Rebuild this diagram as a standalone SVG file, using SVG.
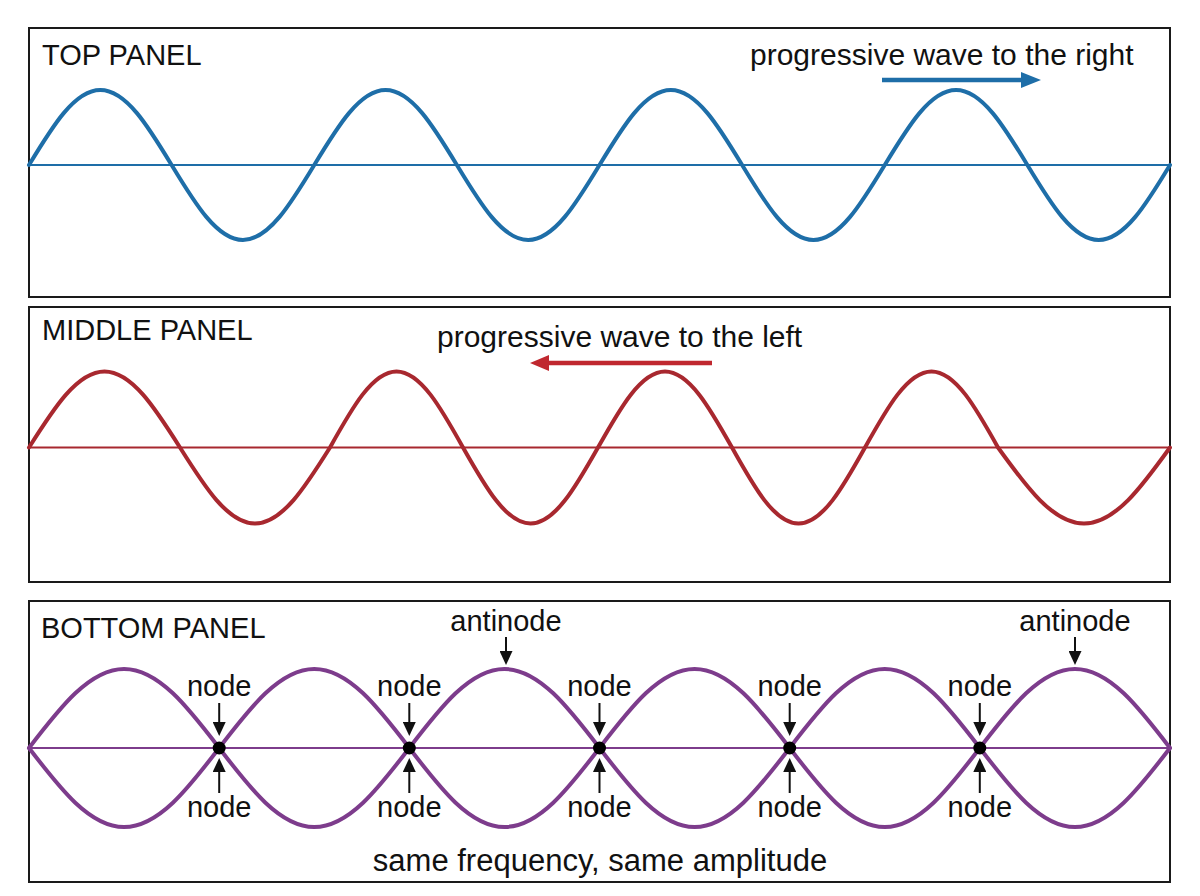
<svg xmlns="http://www.w3.org/2000/svg" width="1200" height="896" viewBox="0 0 1200 896">
  <style>
    .panel { fill: #ffffff; stroke: #1a1a1a; stroke-width: 2; }
    .txt { font-family: "Liberation Sans", Arial, Helvetica, sans-serif; fill: #111111; }
    .title { font-size: 29px; }
    .lbl { font-size: 30px; }
    .foot { font-size: 31px; text-anchor: middle; }
    .small { font-size: 29px; text-anchor: middle; }
    .wave { fill: none; stroke-width: 4; stroke-linejoin: round; stroke-linecap: round; }
    .axis { fill: none; stroke-width: 2; }
    .blue { stroke: #1e6ea8; }
    .red { stroke: #a8282f; }
    .purple { stroke: #7d3c8c; }
    .ptr { stroke: #111111; stroke-width: 2; fill: none; }
  </style>
  <defs>
    <marker id="headBlack" viewBox="0 0 14 13" refX="0" refY="6.5" markerWidth="14" markerHeight="13" markerUnits="userSpaceOnUse" orient="auto">
      <path d="M0,0 L14,6.5 L0,13 z" fill="#111111"/>
    </marker>
    <marker id="headBlue" viewBox="0 0 20 16" refX="0" refY="8" markerWidth="20" markerHeight="16" markerUnits="userSpaceOnUse" orient="auto">
      <path d="M0,0 L20,8 L0,16 z" fill="#1e6ea8"/>
    </marker>
    <marker id="headRed" viewBox="0 0 19 16" refX="0" refY="8" markerWidth="19" markerHeight="16" markerUnits="userSpaceOnUse" orient="auto">
      <path d="M0,0 L19,8 L0,16 z" fill="#c0282f"/>
    </marker>
  </defs>

  <rect width="1200" height="896" fill="#ffffff"/>

  <!-- TOP PANEL -->
  <g id="top-panel">
    <rect class="panel" x="29" y="28" width="1141" height="269"/>
    <text class="txt title" x="42" y="65">TOP PANEL</text>
    <text class="txt lbl" x="750" y="65">progressive wave to the right</text>
    <line class="axis blue" x1="29" y1="165" x2="1170" y2="165"/>
    <path class="wave blue" d="M29,165 c23.255,-38.42 45.504,-75 71.3125,-75 s48.057,36.58 71.3125,75 s45.504,75 71.3125,75 s48.057,-36.58 71.3125,-75
      s45.504,-75 71.3125,-75 s48.057,36.58 71.3125,75 s45.504,75 71.3125,75 s48.057,-36.58 71.3125,-75
      s45.504,-75 71.3125,-75 s48.057,36.58 71.3125,75 s45.504,75 71.3125,75 s48.057,-36.58 71.3125,-75
      s45.504,-75 71.3125,-75 s48.057,36.58 71.3125,75 s45.504,75 71.3125,75 s48.057,-36.58 71.3125,-75"/>
  </g>

  <!-- MIDDLE PANEL -->
  <g id="middle-panel">
    <rect class="panel" x="29" y="307" width="1141" height="275"/>
    <text class="txt title" x="42" y="340">MIDDLE PANEL</text>
    <text class="txt lbl" x="437" y="347">progressive wave to the left</text>
    <line class="axis red" x1="29" y1="447.5" x2="1170" y2="447.5"/>
    <path class="wave red" d="M29,447.5
      c24.62,-38.93 48.18,-76 75.5,-76 c27.32,0 50.88,37.07 75.5,76
      c24.46,38.93 47.86,76 75,76 c27.14,0 50.54,-37.07 75,-76
      c21.69,-38.93 42.43,-76 66.5,-76 c24.07,0 44.81,37.07 66.5,76
      c22.01,38.93 43.07,76 67.5,76 c24.43,0 45.49,-37.07 67.5,-76
      c21.85,-38.93 42.75,-76 67,-76 c24.25,0 45.15,37.07 67,76
      c21.69,38.93 42.43,76 66.5,76 c24.07,0 44.81,-37.07 66.5,-76
      c21.69,-38.93 42.43,-76 66.5,-76 c24.07,0 44.81,37.07 66.5,76
      c28.04,38.93 54.88,76 86,76 c31.12,0 57.96,-37.07 86,-76"/>
  </g>

  <!-- BOTTOM PANEL -->
  <g id="bottom-panel">
    <rect class="panel" x="29" y="601" width="1141" height="281"/>
    <text class="txt title" x="41" y="638">BOTTOM PANEL</text>
    <line class="axis purple" x1="29" y1="748" x2="1170" y2="748"/>
    <path class="wave purple" d="M29,748 c31.007,-40.47 60.673,-79 95.083,-79 s64.076,38.53 95.083,79 s60.673,79 95.083,79 s64.076,-38.53 95.083,-79
      s60.673,-79 95.083,-79 s64.076,38.53 95.083,79 s60.673,79 95.083,79 s64.076,-38.53 95.083,-79
      s60.673,-79 95.083,-79 s64.076,38.53 95.083,79 s60.673,79 95.083,79 s64.076,-38.53 95.083,-79"/>
    <path class="wave purple" d="M29,748 c31.007,40.47 60.673,79 95.083,79 s64.076,-38.53 95.083,-79 s60.673,-79 95.083,-79 s64.076,38.53 95.083,79
      s60.673,79 95.083,79 s64.076,-38.53 95.083,-79 s60.673,-79 95.083,-79 s64.076,38.53 95.083,79
      s60.673,79 95.083,79 s64.076,-38.53 95.083,-79 s60.673,-79 95.083,-79 s64.076,38.53 95.083,79"/>
    <text class="txt foot" x="600" y="871">same frequency, same amplitude</text>
  </g>

  <g id="node-1">
    <circle cx="219.2" cy="748" r="6.5" fill="#000000"/>
    <text class="txt small" x="219.2" y="696">node</text>
    <text class="txt small" x="219.2" y="817">node</text>
  </g>
  <g id="node-2">
    <circle cx="409.3" cy="748" r="6.5" fill="#000000"/>
    <text class="txt small" x="409.3" y="696">node</text>
    <text class="txt small" x="409.3" y="817">node</text>
  </g>
  <g id="node-3">
    <circle cx="599.5" cy="748" r="6.5" fill="#000000"/>
    <text class="txt small" x="599.5" y="696">node</text>
    <text class="txt small" x="599.5" y="817">node</text>
  </g>
  <g id="node-4">
    <circle cx="789.7" cy="748" r="6.5" fill="#000000"/>
    <text class="txt small" x="789.7" y="696">node</text>
    <text class="txt small" x="789.7" y="817">node</text>
  </g>
  <g id="node-5">
    <circle cx="979.8" cy="748" r="6.5" fill="#000000"/>
    <text class="txt small" x="979.8" y="696">node</text>
    <text class="txt small" x="979.8" y="817">node</text>
  </g>
  <g id="antinode-1">
    <text class="txt small" x="506" y="631">antinode</text>
  </g>
  <g id="antinode-2">
    <text class="txt small" x="1075" y="631">antinode</text>
  </g>

  <!-- connectors / arrows -->
  <g id="connectors">
    <line x1="882" y1="80" x2="1021" y2="80" stroke="#1e6ea8" stroke-width="4.5" marker-end="url(#headBlue)"/>
    <line x1="712" y1="363" x2="549" y2="363" stroke="#c0282f" stroke-width="4.5" marker-end="url(#headRed)"/>

    <line class="ptr" x1="506" y1="637" x2="506" y2="651" marker-end="url(#headBlack)"/>
    <line class="ptr" x1="1075" y1="637" x2="1075" y2="651" marker-end="url(#headBlack)"/>

    <line class="ptr" x1="219.2" y1="703" x2="219.2" y2="722" marker-end="url(#headBlack)"/>
    <line class="ptr" x1="219.2" y1="793" x2="219.2" y2="772" marker-end="url(#headBlack)"/>
    <line class="ptr" x1="409.3" y1="703" x2="409.3" y2="722" marker-end="url(#headBlack)"/>
    <line class="ptr" x1="409.3" y1="793" x2="409.3" y2="772" marker-end="url(#headBlack)"/>
    <line class="ptr" x1="599.5" y1="703" x2="599.5" y2="722" marker-end="url(#headBlack)"/>
    <line class="ptr" x1="599.5" y1="793" x2="599.5" y2="772" marker-end="url(#headBlack)"/>
    <line class="ptr" x1="789.7" y1="703" x2="789.7" y2="722" marker-end="url(#headBlack)"/>
    <line class="ptr" x1="789.7" y1="793" x2="789.7" y2="772" marker-end="url(#headBlack)"/>
    <line class="ptr" x1="979.8" y1="703" x2="979.8" y2="722" marker-end="url(#headBlack)"/>
    <line class="ptr" x1="979.8" y1="793" x2="979.8" y2="772" marker-end="url(#headBlack)"/>
  </g>
</svg>
